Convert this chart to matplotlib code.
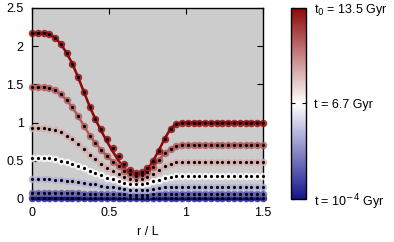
import numpy as np
import matplotlib
matplotlib.use("Agg")
import matplotlib.pyplot as plt
from matplotlib.colors import LinearSegmentedColormap, Normalize
from matplotlib.cm import ScalarMappable

plt.rcParams["font.family"] = ["Liberation Sans", "DejaVu Sans"]
plt.rcParams["font.size"] = 9

# positions r / L of the samples
r = np.linspace(0, 1.5, 41)

# profiles from early (bottom) to t0 (top)
curve_t0 = [2.17, 2.17, 2.17, 2.16, 2.11, 2.03, 1.91, 1.77, 1.59, 1.40,
            1.21, 1.05, 0.91, 0.79, 0.67, 0.56, 0.46, 0.38, 0.34, 0.35,
            0.40, 0.50, 0.63, 0.79, 0.92, 0.98, 1.00] + [1.00] * 14
line_t0 = [2.17, 2.17, 2.17, 2.16, 2.11, 2.03, 1.91, 1.77, 1.59, 1.40,
           1.21, 1.04, 0.89, 0.75, 0.62, 0.50, 0.40, 0.32, 0.28, 0.30,
           0.38, 0.50, 0.64, 0.79, 0.92, 0.98, 1.00] + [1.00] * 14
curve_5 = [1.46, 1.46, 1.46, 1.45, 1.42, 1.37, 1.29, 1.20, 1.08, 0.96,
           0.83, 0.73, 0.64, 0.56, 0.49, 0.43, 0.37, 0.33, 0.30, 0.31,
           0.35, 0.42, 0.51, 0.60, 0.66, 0.69, 0.71] + [0.71] * 14
curve_4 = [0.93, 0.93, 0.93, 0.92, 0.90, 0.87, 0.83, 0.78, 0.72, 0.65,
           0.58, 0.52, 0.46, 0.41, 0.37, 0.33, 0.29, 0.26, 0.25, 0.26,
           0.29, 0.33, 0.38, 0.43, 0.46, 0.48, 0.49] + [0.49] * 14
curve_3 = [0.54, 0.54, 0.53, 0.53, 0.52, 0.50, 0.48, 0.46, 0.43, 0.40,
           0.37, 0.34, 0.31, 0.28, 0.26, 0.23, 0.21, 0.20, 0.19, 0.19,
           0.21, 0.23, 0.25, 0.27, 0.29, 0.30, 0.30] + [0.30] * 14
curve_2 = [0.26, 0.26, 0.26, 0.26, 0.25, 0.25, 0.24, 0.23, 0.22, 0.21,
           0.20, 0.19, 0.17, 0.16, 0.15, 0.14, 0.13, 0.12, 0.12, 0.12,
           0.12, 0.13, 0.14, 0.15, 0.16, 0.16, 0.16] + [0.16] * 14
curve_1 = [0.08] * 9 + [0.07] * 4 + [0.06] * 4 + [0.05] * 4 + [0.06] * 2 + [0.07] * 18
curve_0 = [0.01] * 41

curves = [curve_0, curve_1, curve_2, curve_3, curve_4, curve_5, curve_t0]
lines = [curve_0, curve_1, curve_2, curve_3, curve_4, curve_5, line_t0]
time_frac = [0.0, 1 / 6, 2 / 6, 3 / 6, 4 / 6, 5 / 6, 1.0]

cbar_ticks = [0, 0.5, 1]
cbar_labels = ["t = 10$^{-4}$ Gyr", "t = 6.7 Gyr", "t$_0$ = 13.5 Gyr"]

cmap = LinearSegmentedColormap.from_list("bwr_dark", ["#15158c", "#ffffff", "#8e0808"])

fig = plt.figure(figsize=(3.94, 2.42), dpi=100)
ax = fig.add_axes([0.0812, 0.178, 0.586, 0.789])
ax.set_facecolor("#cccccc")

for y, yl, f in zip(curves, lines, time_frac):
    c = cmap(float(f))
    ax.plot(r, yl, color=c, lw=1.8, zorder=2, clip_on=False)
    ax.plot(r, y, "o", color=c, ms=5.4, mew=0, alpha=0.8, zorder=3, clip_on=False)
    ax.plot(r, y, "o", color="black", ms=2.3, mew=0, zorder=4, clip_on=False)

ax.set_xlim(0, 1.5)
ax.set_ylim(0, 2.5)
ax.set_xticks([0, 0.5, 1, 1.5])
ax.set_xticklabels(["0", "0.5", "1", "1.5"])
ax.set_yticks([0, 0.5, 1, 1.5, 2, 2.5])
ax.set_yticklabels(["0", "0.5", "1", "1.5", "2", "2.5"])
ax.tick_params(direction="in", top=True, right=True, length=4, width=0.8, pad=6)
for s in ax.spines.values():
    s.set_linewidth(1.0)
ax.set_xlabel("r / L", labelpad=5)

cax = fig.add_axes([0.7386, 0.178, 0.038, 0.789])
cb = fig.colorbar(ScalarMappable(norm=Normalize(0, 1), cmap=cmap), cax=cax)
cb.set_ticks(cbar_ticks)
cb.set_ticklabels(cbar_labels)
cax.tick_params(direction="in", left=True, right=True, length=3, width=0.8, pad=6)
cb.outline.set_linewidth(1.0)

fig.savefig("out.png", dpi=100)
